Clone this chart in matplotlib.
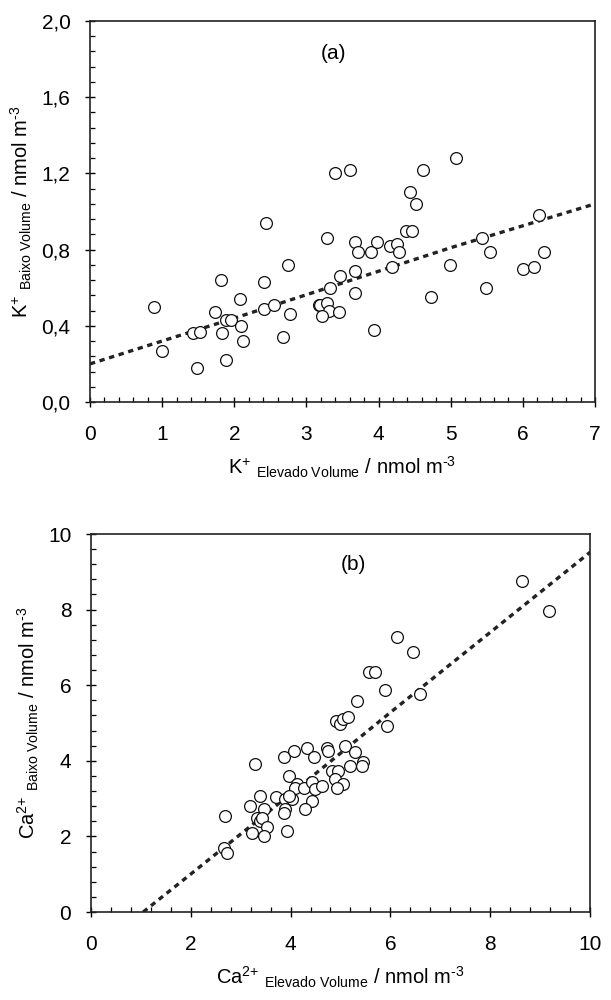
"""Two scatter panels: K+ and Ca2+, low-volume vs high-volume sampler."""
import matplotlib

matplotlib.use("Agg")
import matplotlib.pyplot as plt
from matplotlib.ticker import MultipleLocator, FuncFormatter

plt.rcParams["font.family"] = ["Liberation Sans", "DejaVu Sans"]
plt.rcParams["mathtext.fontset"] = "custom"
plt.rcParams["mathtext.rm"] = "Liberation Sans"
plt.rcParams["mathtext.it"] = "Liberation Sans:italic"
plt.rcParams["mathtext.bf"] = "Liberation Sans:bold"

# panel (a): K+  (x = elevado volume, y = baixo volume)
k_elevado = [0.89, 1.00, 1.43, 1.53, 1.49, 1.73, 1.81, 1.83, 1.89, 1.96,
             1.89, 2.08, 2.10, 2.12, 2.44, 2.41, 2.41, 2.55, 2.68, 2.74,
             2.77, 3.17, 3.19, 3.29, 3.31, 3.22, 3.45, 3.29, 3.33, 3.47,
             3.40, 3.60, 3.67, 3.72, 3.67, 3.67, 3.90, 3.98, 3.94, 4.16,
             4.26, 4.28, 4.19, 4.38, 4.47, 4.43, 4.52, 4.61, 4.72, 4.99,
             5.08, 5.44, 5.55, 5.49, 6.00, 6.16, 6.22, 6.29]
k_baixo = [0.50, 0.27, 0.36, 0.37, 0.18, 0.47, 0.64, 0.36, 0.43, 0.43,
           0.22, 0.54, 0.40, 0.32, 0.94, 0.63, 0.49, 0.51, 0.34, 0.72,
           0.46, 0.51, 0.51, 0.52, 0.48, 0.45, 0.47, 0.86, 0.60, 0.66,
           1.20, 1.22, 0.84, 0.79, 0.69, 0.57, 0.79, 0.84, 0.38, 0.82,
           0.83, 0.79, 0.71, 0.90, 0.90, 1.10, 1.04, 1.22, 0.55, 0.72,
           1.28, 0.86, 0.79, 0.60, 0.70, 0.71, 0.98, 0.79]
k_fit_x = [0.0, 0.25, 1.0, 2.0, 3.3, 5.0, 7.0]
k_fit_y = [0.20, 0.23, 0.32, 0.44, 0.60, 0.81, 1.04]

# panel (b): Ca2+
ca_elevado = [8.63, 9.17, 6.13, 6.46, 5.57, 5.69, 5.89, 6.60, 5.33, 4.91,
              4.99, 5.05, 5.16, 5.93, 3.29, 3.86, 4.06, 4.33, 4.46, 4.73,
              4.76, 5.09, 5.29, 5.19, 5.45, 5.43, 4.83, 4.96, 4.89, 5.06,
              4.93, 3.96, 4.13, 4.09, 4.26, 4.43, 4.49, 4.63, 3.70, 3.39,
              3.89, 4.03, 3.96, 4.43, 4.29, 3.19, 3.46, 3.89, 3.86, 3.32,
              3.39, 3.42, 3.52, 2.69, 3.22, 3.46, 3.93, 2.66, 2.72]
ca_baixo = [8.76, 7.95, 7.28, 6.88, 6.35, 6.35, 5.86, 5.77, 5.59, 5.06,
            4.97, 5.11, 5.17, 4.93, 3.91, 4.09, 4.26, 4.35, 4.09, 4.35,
            4.26, 4.39, 4.22, 3.87, 3.96, 3.87, 3.74, 3.74, 3.52, 3.39,
            3.29, 3.61, 3.39, 3.29, 3.29, 3.43, 3.25, 3.33, 3.03, 3.07,
            2.98, 2.98, 3.07, 2.94, 2.72, 2.81, 2.72, 2.72, 2.63, 2.50,
            2.41, 2.50, 2.26, 2.54, 2.09, 2.00, 2.14, 1.70, 1.56]
ca_fit_x = [1.05, 2.0, 4.0, 6.0, 8.0, 10.0]
ca_fit_y = [0.0, 1.0, 3.12, 5.28, 7.40, 9.52]

TICK_FS = 15
LABEL_FS = 14.5


def style_axes(ax, xmax, xmaj, xmin, ymax, ymaj, ymin, yfmt):
    ax.set_xlim(0, xmax)
    ax.set_ylim(0, ymax)
    ax.xaxis.set_major_locator(MultipleLocator(xmaj))
    ax.xaxis.set_minor_locator(MultipleLocator(xmin))
    ax.yaxis.set_major_locator(MultipleLocator(ymaj))
    ax.yaxis.set_minor_locator(MultipleLocator(ymin))
    ax.yaxis.set_major_formatter(FuncFormatter(yfmt))
    ax.tick_params(which="major", direction="inout", length=7, width=1,
                   labelsize=TICK_FS, top=False, right=False)
    ax.tick_params(axis="x", which="major", pad=13)
    ax.tick_params(axis="y", which="major", pad=10.5)
    ax.tick_params(which="minor", direction="in", length=3.5, width=0.9,
                   top=False, right=False)
    for sp in ax.spines.values():
        sp.set_linewidth(1.2)
        sp.set_color("#222222")


fig = plt.figure(figsize=(6.11, 10), dpi=100)
ax_a = fig.add_axes([0.1473, 0.598, 0.8265, 0.381])
ax_b = fig.add_axes([0.1485, 0.088, 0.8175, 0.378])

circle = dict(marker="o", linestyle="none", markersize=8.5,
              markerfacecolor="white", markeredgecolor="#111111",
              markeredgewidth=0.9)
fit = dict(color="#222222", linewidth=2.4, linestyle=(0, (1.6, 1.4)))
unit = r" / nmol m$^{\text{-3}}$"

ax_a.plot(k_fit_x, k_fit_y, zorder=2, **fit)
ax_a.plot(k_elevado, k_baixo, zorder=3, **circle)
style_axes(ax_a, 7, 1, 0.2, 2.0, 0.4, 0.08,
           lambda v, p: f"{v:.1f}".replace(".", ","))
ax_a.text(3.37, 1.83, "(a)", ha="center", va="center", fontsize=TICK_FS)
ax_a.set_xlabel(r"K$^{+}$ $_{\text{Elevado Volume}}$" + unit,
                fontsize=LABEL_FS, labelpad=8)
ax_a.set_ylabel(r"K$^{+}$ $_{\text{Baixo Volume}}$" + unit,
                fontsize=LABEL_FS, labelpad=5)

ax_b.plot(ca_fit_x, ca_fit_y, zorder=2, **fit)
ax_b.plot(ca_elevado, ca_baixo, zorder=3, **circle)
style_axes(ax_b, 10, 2, 0.4, 10, 2, 0.4, lambda v, p: f"{v:.0f}")
ax_b.text(5.25, 9.18, "(b)", ha="center", va="center", fontsize=TICK_FS)
ax_b.set_xlabel(r"Ca$^{\text{2+}}$ $_{\text{Elevado Volume}}$" + unit,
                fontsize=LABEL_FS, labelpad=8)
ax_b.set_ylabel(r"Ca$^{\text{2+}}$ $_{\text{Baixo Volume}}$" + unit,
                fontsize=LABEL_FS, labelpad=5)

fig.savefig("out.png", dpi=100)
